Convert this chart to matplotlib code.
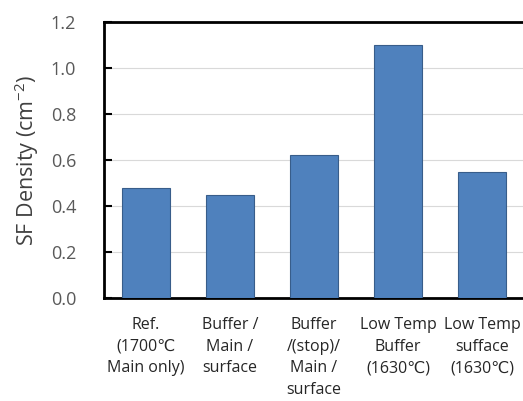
import matplotlib
matplotlib.use("Agg")
import matplotlib.pyplot as plt

categories = ["Ref.\n(1700\u2103\nMain only)", "Buffer /\nMain /\nsurface",
              "Buffer\n/(stop)/\nMain /\nsurface", "Low Temp\nBuffer\n(1630\u2103)",
              "Low Temp\nsufface\n(1630\u2103)"]
values = [0.48, 0.45, 0.62, 1.10, 0.55]
yticks = [0.0, 0.2, 0.4, 0.6, 0.8, 1.0, 1.2]

plt.rcParams['font.family'] = ['Open Sans', 'DejaVu Sans']

fig = plt.figure(figsize=(5.23, 4.01), dpi=100)
ax = fig.add_axes([104/523, 103/401, 420/523, 276/401])
x = list(range(len(values)))
ax.bar(x, values, width=0.57, color="#4F81BD", edgecolor="#385D8A", linewidth=0.8, zorder=3)
ax.set_xlim(-0.5, len(values) - 0.5)
ax.set_ylim(0, 1.2)
ax.set_yticks(yticks)
ax.set_yticklabels([f"{v:.1f}" for v in yticks], fontsize=13, color="#595959")
ax.yaxis.grid(True, color="#D9D9D9", linewidth=0.8, zorder=0)
ax.set_xticks(x)
ax.set_xticklabels(categories, fontsize=11.5, linespacing=1.45, color="#262626")
ax.tick_params(axis='x', length=0, pad=14)
ax.tick_params(axis='y', direction='in', length=6, width=1.5, pad=20)
for s in ax.spines.values():
    s.set_linewidth(2)
    s.set_color("black")
ax.set_ylabel("SF Density (cm$^{\\mathregular{-2}}$)", fontsize=15.5, color="#404040", labelpad=7)
fig.savefig("out.png", dpi=100)
